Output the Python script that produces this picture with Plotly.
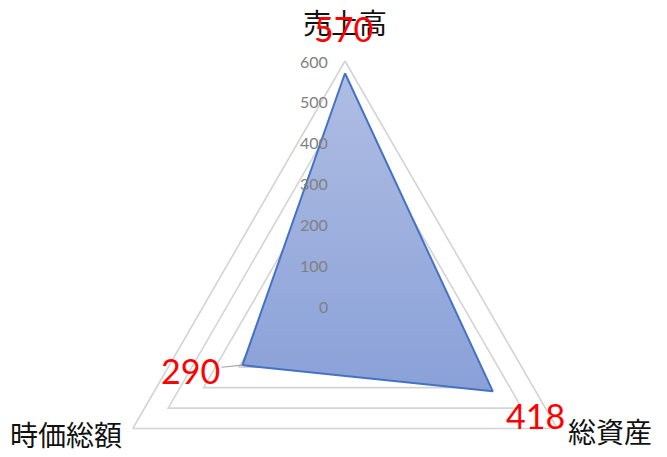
import numpy as np
import plotly.graph_objects as go

# Radar data (clockwise from top)
categories = ['売上高', '総資産', '時価総額']
values = [570, 418, 290]
radial_ticks = [0, 100, 200, 300, 400, 500, 600]

# angles in degrees, starting at the top and going clockwise
angles = np.deg2rad(90 - np.arange(len(categories)) * 360 / len(categories))
r_max = radial_ticks[-1]

# the page body keeps its default 8px margin, so the figure is 8px smaller
W, H = 659, 449
cx, cy = 337, 298          # centre of the radar in figure pixels
scale = 245 / r_max        # pixels per unit


def to_xy(r):
    r = np.asarray(r, dtype=float)
    return r * np.cos(angles), r * np.sin(angles)


fig = go.Figure()

# gridlines (triangles), drawn first so the fill covers them
for t in radial_ticks[1:]:
    gx, gy = to_xy([t] * len(categories))
    fig.add_trace(go.Scatter(
        x=list(gx) + [gx[0]], y=list(gy) + [gy[0]],
        mode='lines', line=dict(color='#D4D4D4', width=1.6),
        hoverinfo='skip', showlegend=False
    ))

# data polygon
vx, vy = to_xy(values)
fig.add_trace(go.Scatter(
    x=list(vx) + [vx[0]], y=list(vy) + [vy[0]],
    mode='lines', fill='toself',
    fillcolor='#9CAEDD',
    fillgradient=dict(type='vertical',
                      colorscale=[[0, '#8AA1D8'], [1, '#AFBDE3']]),
    line=dict(color='#4472C4', width=2),
    showlegend=False, name='値'
))

annotations = []

# radial tick labels along the vertical axis
for t in radial_ticks:
    annotations.append(dict(
        x=0, y=t, xref='x', yref='y', text=str(t), showarrow=False,
        xanchor='right', yanchor='middle', xshift=-15,
        font=dict(family='Lato, Open Sans, sans-serif', size=16, color='#808080')
    ))

# category labels outside the vertices
ox, oy = to_xy([r_max] * len(categories))
cat_style = [
    dict(xanchor='center', yanchor='middle', xshift=0, yshift=39),
    dict(xanchor='left', yanchor='middle', xshift=9, yshift=-2),
    dict(xanchor='right', yanchor='middle', xshift=-9, yshift=-5),
]
for name, x, y, st in zip(categories, ox, oy, cat_style):
    annotations.append(dict(
        x=x, y=y, xref='x', yref='y', text=name, showarrow=False,
        font=dict(family='Noto Sans CJK JP', size=28, color='#111111'), **st
    ))

# red data labels
lab_style = [
    dict(showarrow=False, xanchor='center', yanchor='middle', xshift=-2, yshift=45),
    dict(showarrow=False, xanchor='center', yanchor='middle', xshift=43, yshift=-24),
    dict(showarrow=True, ax=-52, ay=5, arrowhead=0, arrowwidth=1.2,
         arrowcolor='#A6A6A6', standoff=0, xanchor='center', yanchor='middle'),
]
for v, x, y, st in zip(values, vx, vy, lab_style):
    annotations.append(dict(
        x=x, y=y, xref='x', yref='y', text=str(v),
        font=dict(family='Lato, Open Sans, sans-serif', size=34, color='#FF0000'), **st
    ))

fig.update_layout(
    width=W, height=H,
    margin=dict(l=0, r=0, t=0, b=0),
    paper_bgcolor='white', plot_bgcolor='white',
    xaxis=dict(visible=False, range=[-cx / scale, (W - cx) / scale], fixedrange=True),
    yaxis=dict(visible=False, range=[-(H - cy) / scale, cy / scale], fixedrange=True),
    annotations=annotations,
    showlegend=False
)

fig.write_html("out.html")
